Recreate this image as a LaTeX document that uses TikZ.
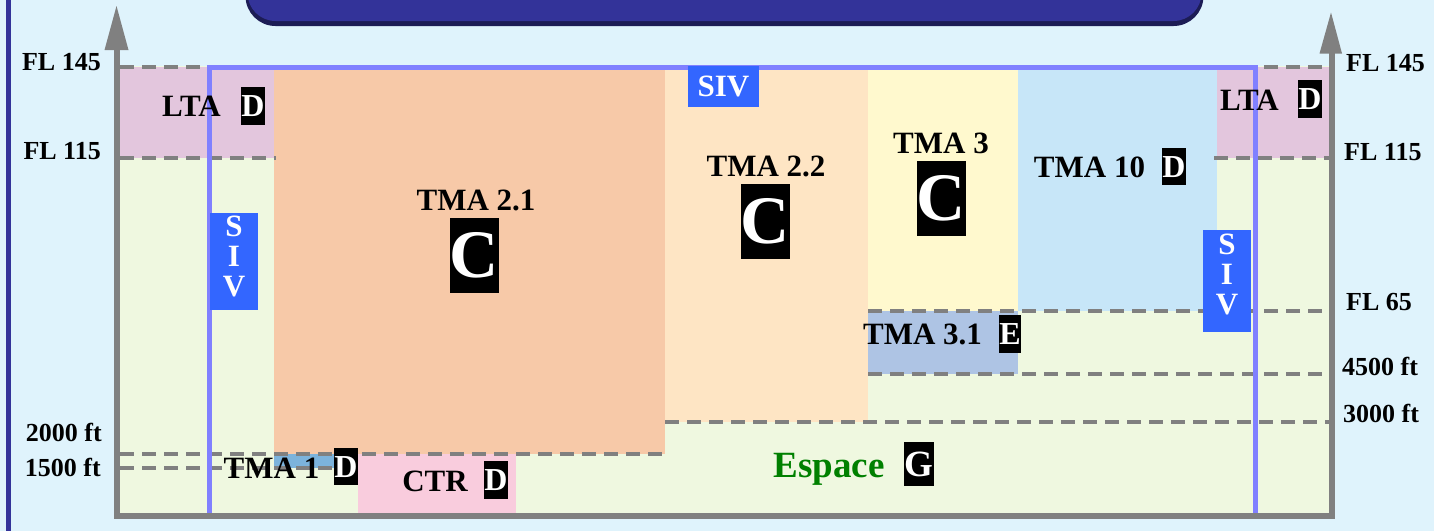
\documentclass[tikz,border=0pt]{standalone}
\usepackage{fontspec}
\setmainfont{Liberation Serif}
\newcommand\fsz[1]{\fontsize{#1}{#1}\selectfont}
\definecolor{bgblue}{HTML}{DFF3FC}
\definecolor{darkblue}{HTML}{333399}
\definecolor{darkerblue}{HTML}{1C1C55}
\definecolor{groundc}{HTML}{EFF8E0}
\definecolor{ltac}{HTML}{E3C6DD}
\definecolor{tmaA}{HTML}{F7C9A8}
\definecolor{tmaB}{HTML}{FEE5C4}
\definecolor{tmaC}{HTML}{FFF9CE}
\definecolor{tmaD}{HTML}{C7E6F8}
\definecolor{tmaE}{HTML}{AEC4E4}
\definecolor{tmaF}{HTML}{7CB3DC}
\definecolor{ctrc}{HTML}{F9CCDD}
\definecolor{sivblue}{HTML}{3366FF}
\definecolor{framec}{HTML}{8080FF}
\definecolor{axisgray}{HTML}{808080}
\definecolor{espgreen}{HTML}{008000}
\begin{document}
\begin{tikzpicture}[x=1pt,y=-1pt,
  lbl/.style={inner sep=0, font=\bfseries\fsz{26}},
  zone/.style={inner sep=0, font=\bfseries\fsz{31}},
  badge/.style={fill=black, text=white, inner xsep=0.5, inner ysep=0, minimum height=37.5, font=\bfseries\fsz{32}},
  bigc/.style={fill=black, text=white, inner sep=0, minimum width=47, minimum height=75, font=\bfseries\fsz{68}},
  sivbox/.style={fill=sivblue, inner sep=0},
  sivtxt/.style={text=white, inner sep=0, font=\bfseries\fsz{31}},
  lvl/.style={draw=axisgray, line width=4, dash pattern=on 14 off 8},
]
\useasboundingbox (0,0) rectangle (1434,531);
\clip (0,0) rectangle (1434,531);
% background
\fill[bgblue] (0,0) rectangle (1434,531);
\fill[darkblue] (6,0) rectangle (11,531);
% title box
\fill[darkerblue, rounded corners=30] (245.5,-80) rectangle (1203.5,26);
\fill[darkblue, rounded corners=28] (247.5,-80) rectangle (1201.5,21);
% airspace regions
\fill[groundc] (120,66) rectangle (1330,513);
\fill[ltac] (120,67) rectangle (274,158);
\fill[ltac] (1217,67) rectangle (1330,158);
\fill[tmaA] (274,67) rectangle (665,454);
\fill[tmaB] (665,67) rectangle (868,422);
\fill[tmaC] (868,67) rectangle (1018,311);
\fill[tmaD] (1018,67) rectangle (1217,311);
\fill[tmaE] (868,311) rectangle (1018,374);
\fill[tmaF] (274,454) rectangle (358,468);
\fill[ctrc] (358,454) rectangle (516,513);
% level lines
\draw[lvl] (120,67) -- (1330,67);
\draw[lvl] (120,158) -- (276,158);
\draw[lvl] (1214,158) -- (1330,158);
\draw[lvl] (868,311) -- (1330,311);
\draw[lvl] (868,374) -- (1330,374);
\draw[lvl] (665,422) -- (1330,422);
\draw[lvl] (120,454) -- (665,454);
\draw[lvl] (120,468) -- (358,468);
% SIV frame
\draw[framec, line width=5] (209,513) -- (209,67.5) -- (1255,67.5) -- (1255,513);
% axes
\draw[axisgray, line width=6, line join=miter] (117,48) -- (117,516) -- (1332,516) -- (1332,51);
\fill[axisgray] (104.5,50) -- (128.5,50) -- (116.5,6) -- cycle;
\fill[axisgray] (1319.5,53.5) -- (1342,53.5) -- (1331,12.5) -- cycle;
% axis labels
\node[lbl, anchor=east] (l145) at (101,62) {FL 145};
\node[lbl, anchor=east] (l115) at (101,151) {FL 115};
\node[lbl, anchor=east] (l2000) at (102,432) {2000 ft};
\node[lbl, anchor=east] (l1500) at (101,467) {1500 ft};
\node[lbl, anchor=west] (r145) at (1346,63) {FL 145};
\node[lbl, anchor=west] (r115) at (1344,152.5) {FL 115};
\node[lbl, anchor=west] (r65) at (1346,302) {FL 65};
\node[lbl, anchor=west] (r4500) at (1342,366) {4500 ft};
\node[lbl, anchor=west] (r3000) at (1343,413) {3000 ft};
% zone labels
\node[zone] (ltaL) at (191.5,106) {LTA};
\node[badge] (ltaLc) at (253,106) {D};
\node[zone] (t21) at (476,200) {TMA 2.1};
\node[bigc] (t21c) at (474.5,255.5) {C};
\node[zone] (t22) at (766,166) {TMA 2.2};
\node[bigc] (t22c) at (765.3,221.5) {C};
\node[zone] (t3) at (941,143) {TMA 3};
\node[bigc] (t3c) at (941.3,198.5) {C};
\node[zone] (t10) at (1089.5,167) {TMA 10};
\node[badge] (t10c) at (1174,166.7) {D};
\node[zone] (ltaR) at (1249.5,100) {LTA};
\node[badge] (ltaRc) at (1310,99) {D};
\node[zone] (t31) at (922.5,334) {TMA 3.1};
\node[badge] (t31c) at (1010,334) {E};
\node[zone] (t1) at (271.5,468) {TMA 1};
\node[badge] (t1c) at (346,466.7) {D};
\node[zone] (ctr) at (435,481) {CTR};
\node[badge] (ctrcl) at (496,480) {D};
\node[inner sep=0, anchor=base, text=espgreen, font=\bfseries\fsz{37}] (esp) at (829,477.7) {Espace};
\node[badge, minimum height=44, font=\bfseries\fsz{37}] (espc) at (919,464) {G};
% SIV labels
\node[sivbox, minimum width=71, minimum height=41] (sivT) at (723.5,86.2) {};
\node[sivtxt] (sivTt) at (723.5,86.2) {SIV};
\node[sivbox, minimum width=48, minimum height=97.3] (sivL) at (234,261.3) {};
\node[sivtxt, align=center, font=\bfseries\fontsize{31}{30}\selectfont] (sivLt) at (234,256) {S\\I\\V};
\node[sivbox, minimum width=48.3, minimum height=101.7] (sivR) at (1227,281) {};
\node[sivtxt, align=center, font=\bfseries\fontsize{31}{30}\selectfont] (sivRt) at (1227,274) {S\\I\\V};
\end{tikzpicture}
\end{document}
